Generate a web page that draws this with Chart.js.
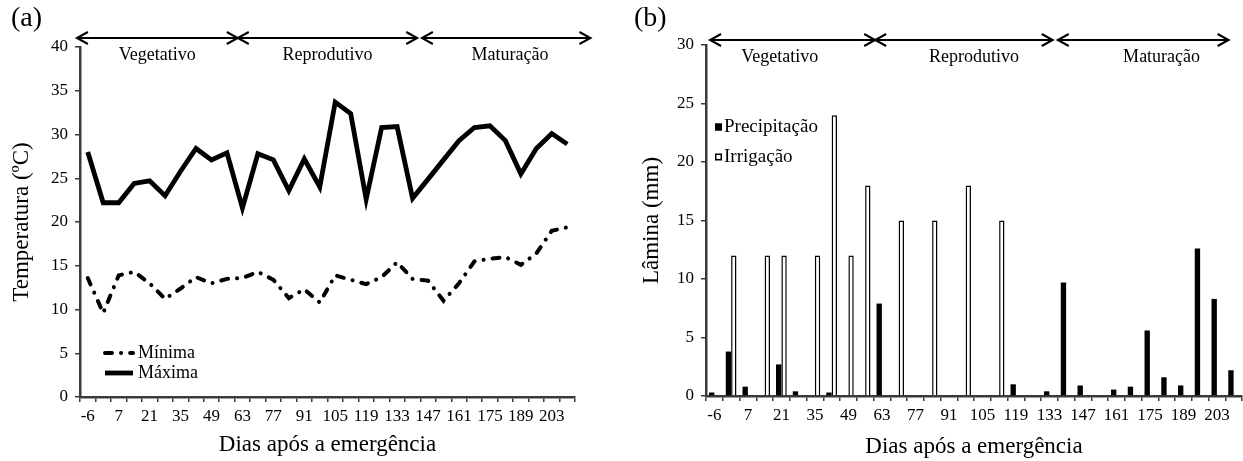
<!DOCTYPE html>
<html>
<head>
<meta charset="utf-8">
<script src="https://cdn.jsdelivr.net/npm/chart.js@4/dist/chart.umd.min.js"></script>
<style>
  body { margin: 0; background: #fff; width: 1243px; height: 461px; overflow: hidden; position: relative; }
  .box { position: absolute; top: 0; height: 461px; }
  #boxA { left: 0; width: 620px; }
  #boxB { left: 620px; width: 623px; }
</style>
</head>
<body>
<div class="box" id="boxA"><canvas id="chartA"></canvas></div>
<div class="box" id="boxB"><canvas id="chartB"></canvas></div>
<script>
// days after emergence (one category every 7 days, label on every other one)
var days = [-6, 0, 7, 14, 21, 28, 35, 42, 49, 56, 63, 70, 77, 84, 91, 98,
            105, 112, 119, 126, 133, 140, 147, 154, 161, 168, 175, 182, 189, 196, 203, 210];

// temperatures (ºC)
var tempMin = [13.6, 9.6, 13.9, 14.3, 13.0, 11.2, 12.4, 13.7, 13.0, 13.5, 13.6, 14.3, 13.4, 11.3, 12.3, 10.8,
               13.9, 13.4, 12.9, 13.7, 15.4, 13.5, 13.3, 11.0, 13.0, 15.5, 15.8, 16.0, 15.1, 16.4, 19.0, 19.4];
var tempMax = [28.0, 22.2, 22.2, 24.4, 24.7, 23.0, 25.8, 28.4, 27.1, 27.9, 21.6, 27.8, 27.1, 23.6, 27.2, 24.0,
               33.7, 32.4, 22.6, 30.8, 30.9, 22.7, 24.9, 27.1, 29.3, 30.8, 31.0, 29.3, 25.5, 28.4, 30.1, 28.9];

// water depth (mm)
var precip = [0.3, 3.8, 0.8, null, 2.7, 0.4, null, 0.3, null, null, 7.9, null, null, null, null, null,
              null, null, 1.0, null, 0.4, 9.7, 0.9, null, 0.55, 0.8, 5.6, 1.6, 0.9, 12.6, 8.3, 2.2];
var irrig = [null, 12, null, 12, 12, null, 12, 24, 12, 18, null, 15, null, 15, null, 18,
             null, 15, null, null, null, null, null, null, null, null, null, null, null, null, null, null];

var tempTicks = { min: 0, max: 40, step: 5 };
var waterTicks = { min: 0, max: 30, step: 5 };

var FONT = "'Liberation Serif', 'Times New Roman', serif";
var AXIS = '#3a3a3a';

// phase arrows, in category units from the left edge of the x axis
var phasesA = [
  { text: 'Vegetativo', from: -0.2, to: 10.2, at: 5.0 },
  { text: 'Reprodutivo', from: 10.2, to: 21.8, at: 16.0 },
  { text: 'Maturação', from: 22.1, to: 33.0, at: 27.8 }
];
var phasesB = [
  { text: 'Vegetativo', from: 0.24, to: 10.1, at: 4.4 },
  { text: 'Reprodutivo', from: 10.1, to: 20.7, at: 16.0 },
  { text: 'Maturação', from: 21.0, to: 31.2, at: 27.2 }
];

Chart.defaults.font.family = FONT;
Chart.defaults.color = '#000';
Chart.defaults.animation = false;

var extras = {
  id: 'extras',
  afterDraw: function (chart, args, opts) {
    var ctx = chart.ctx, xs = chart.scales.x, area = chart.chartArea;
    var step = xs.width / days.length;
    ctx.save();
    // panel letter
    ctx.fillStyle = '#000';
    ctx.font = '28px ' + FONT;
    ctx.textAlign = 'left';
    ctx.textBaseline = 'top';
    ctx.fillText(opts.letter, opts.letterX, 5);

    // phase arrows
    ctx.strokeStyle = '#000';
    ctx.lineWidth = 2;
    ctx.font = '18px ' + FONT;
    ctx.textAlign = 'center';
    ctx.textBaseline = 'alphabetic';
    var y = area.top + opts.arrowDy;
    opts.phases.forEach(function (p) {
      var x0 = xs.left + p.from * step, x1 = xs.left + p.to * step;
      ctx.beginPath();
      ctx.moveTo(x0, y); ctx.lineTo(x1, y);
      ctx.moveTo(x0 + 11, y - 6); ctx.lineTo(x0, y); ctx.lineTo(x0 + 11, y + 6);
      ctx.moveTo(x1 - 11, y - 6); ctx.lineTo(x1, y); ctx.lineTo(x1 - 11, y + 6);
      ctx.stroke();
      ctx.fillText(p.text, xs.left + p.at * step, area.top + opts.textDy);
    });

    // legend
    ctx.textAlign = 'left';
    ctx.textBaseline = 'middle';
    ctx.font = opts.legFont + 'px ' + FONT;
    chart.data.datasets.forEach(function (ds, i) {
      var lx = area.left + opts.legX, ly = area.top + opts.legY + i * opts.legGap;
      if (chart.config.type === 'line') {
        ctx.save();
        ctx.strokeStyle = ds.borderColor;
        ctx.lineWidth = ds.borderWidth;
        ctx.lineCap = ds.borderCapStyle || 'butt';
        ctx.setLineDash(ds.borderDash || []);
        ctx.beginPath();
        ctx.moveTo(lx, ly); ctx.lineTo(lx + 28, ly);
        ctx.stroke();
        ctx.restore();
        ctx.fillText(ds.label, lx + 33, ly);
      } else {
        ctx.fillStyle = ds.backgroundColor;
        ctx.fillRect(lx, ly - 3.5, 7, 7);
        ctx.lineWidth = 1.5;
        ctx.strokeStyle = '#000';
        ctx.strokeRect(lx + 0.75, ly - 2.75, 5.5, 5.5);
        ctx.fillStyle = '#000';
        ctx.fillText(ds.label, lx + 9, ly);
      }
    });
    ctx.restore();
  }
};

function xAxis(height, titlePad) {
  return {
    type: 'category',
    offset: true,
    grid: { offset: true, drawOnChartArea: false, drawTicks: true, tickLength: 5, color: AXIS, lineWidth: 1.5 },
    border: { display: true, color: AXIS, width: 2.5 },
    ticks: {
      autoSkip: false, maxRotation: 0, padding: 4,
      font: { size: 17 },
      callback: function (v, i) { return i % 2 === 0 ? days[i] : ''; }
    },
    title: { display: true, text: 'Dias após a emergência', font: { size: 23 }, padding: { top: 0, bottom: titlePad } },
    afterFit: function (s) { s.height = height; }
  };
}

function yAxis(t, title, width, titlePad) {
  return {
    min: t.min, max: t.max,
    grid: { drawOnChartArea: false, drawTicks: true, tickLength: 5, color: AXIS, lineWidth: 1.5 },
    border: { display: true, color: AXIS, width: 2.5 },
    ticks: { stepSize: t.step, padding: 7, font: { size: 17 } },
    title: { display: true, text: title, font: { size: 23 }, padding: { top: titlePad, bottom: 0 } },
    afterFit: function (s) { s.width = width; }
  };
}

new Chart(document.getElementById('chartA'), {
  type: 'line',
  data: {
    labels: days,
    datasets: [
      {
        label: 'Mínima', data: tempMin, borderColor: '#000', borderWidth: 4,
        borderDash: [7, 9, 0.1, 9], borderCapStyle: 'round', pointRadius: 0, tension: 0
      },
      {
        label: 'Máxima', data: tempMax, borderColor: '#000', borderWidth: 4.8,
        pointRadius: 0, tension: 0
      }
    ]
  },
  options: {
    responsive: true,
    maintainAspectRatio: false,
    layout: { padding: { top: 47, right: 45, left: 0, bottom: 0 } },
    plugins: {
      legend: { display: false },
      tooltip: { enabled: false },
      extras: { letter: '(a)', letterX: 11, phases: phasesA, arrowDy: -9, textDy: 13,
                legX: 25, legY: 306, legGap: 20, legFont: 18 }
    },
    scales: {
      x: xAxis(64, 2),
      y: yAxis(tempTicks, 'Temperatura (ºC)', 80, 8)
    }
  },
  plugins: [extras]
});

new Chart(document.getElementById('chartB'), {
  type: 'bar',
  data: {
    labels: days,
    datasets: [
      {
        label: 'Precipitação', data: precip, backgroundColor: '#000', borderColor: '#000',
        borderWidth: 0, categoryPercentage: 0.64, barPercentage: 1
      },
      {
        label: 'Irrigação', data: irrig, backgroundColor: '#fff', borderColor: '#000',
        borderWidth: 1.5, categoryPercentage: 0.64, barPercentage: 1
      }
    ]
  },
  options: {
    responsive: true,
    maintainAspectRatio: false,
    layout: { padding: { top: 45, right: 1, left: 0, bottom: 0 } },
    plugins: {
      legend: { display: false },
      tooltip: { enabled: false },
      extras: { letter: '(b)', letterX: 14, phases: phasesB, arrowDy: -5, textDy: 17,
                legX: 9, legY: 82, legGap: 30, legFont: 19 }
    },
    scales: {
      x: xAxis(65, 0),
      y: yAxis(waterTicks, 'Lâmina (mm)', 86, 18)
    }
  },
  plugins: [extras]
});
</script>
</body>
</html>
